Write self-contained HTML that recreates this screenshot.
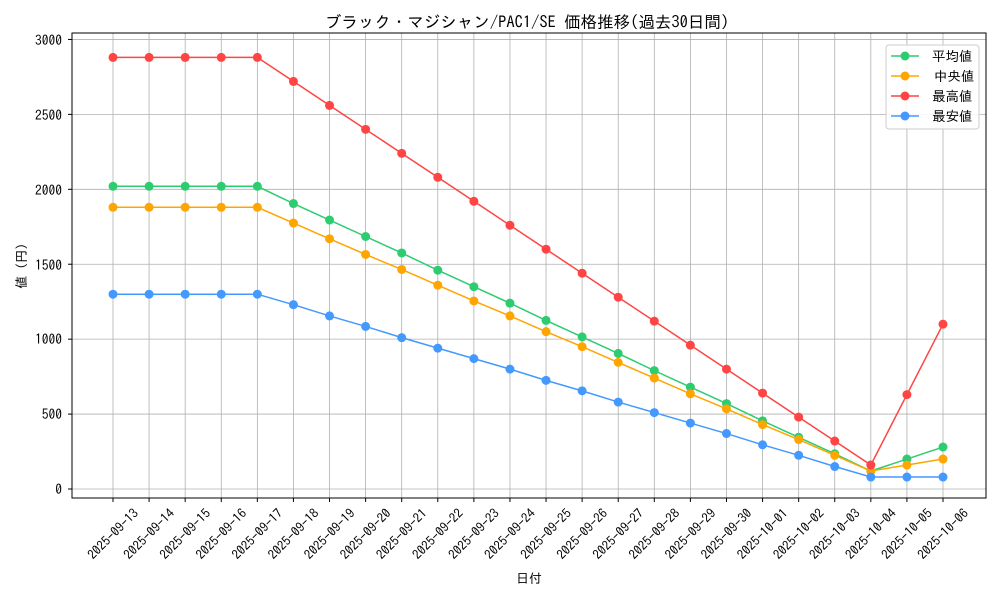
<!DOCTYPE html>
<html><head><meta charset="utf-8"><style>
html,body{margin:0;padding:0;background:#fff;}
svg text{font-family:"IPAGothic","Liberation Sans","Noto Sans CJK JP",sans-serif;fill:#000;}
</style></head><body>
<svg id="s" width="1000" height="600" viewBox="0 0 1000 600" xmlns="http://www.w3.org/2000/svg">
<rect width="1000" height="600" fill="#fff"/>
<g id="grid" stroke="#b0b0b0" stroke-width="0.8"></g>
<g id="series"></g>
<rect x="72" y="33" width="914" height="465" fill="none" stroke="#000" stroke-width="1"/>
<g id="ticks" stroke="#000" stroke-width="1"></g>
<text x="527" y="28" font-size="16.5" text-anchor="middle">ブラック・マジシャン/PAC1/SE 価格推移(過去30日間)</text>
<g font-size="13.5" text-anchor="end">
<text x="62" y="494">0</text>
<text x="62" y="419">500</text>
<text x="62" y="344">1000</text>
<text x="62" y="270">1500</text>
<text x="62" y="195">2000</text>
<text x="62" y="120">2500</text>
<text x="62" y="45">3000</text>
</g>
<text transform="translate(26,266) rotate(-90)" font-size="13" text-anchor="middle">値 (円)</text>
<text x="529" y="583" font-size="13" text-anchor="middle">日付</text>
<g id="xl" font-size="13" text-anchor="middle"></g>
<g>
<rect x="886" y="45" width="93" height="84" rx="3" fill="#fff" fill-opacity="0.85" stroke="#ccc"/>
<line x1="891" y1="56" x2="919" y2="56" stroke="#2ecc71" stroke-width="1.5"/><circle cx="905" cy="56" r="4.5" fill="#2ecc71"/>
<line x1="891" y1="76" x2="919" y2="76" stroke="#ffa500" stroke-width="1.5"/><circle cx="905" cy="76" r="4.5" fill="#ffa500"/>
<line x1="891" y1="96" x2="919" y2="96" stroke="#ff4444" stroke-width="1.5"/><circle cx="905" cy="96" r="4.5" fill="#ff4444"/>
<line x1="891" y1="116" x2="919" y2="116" stroke="#4499ff" stroke-width="1.5"/><circle cx="905" cy="116" r="4.5" fill="#4499ff"/>
<g font-size="13.5"><text x="932" y="61">平均値</text><text x="934" y="81">中央値</text><text x="932" y="101">最高値</text><text x="932" y="121">最安値</text></g>
</g>
</svg>
<script>
var NS="http://www.w3.org/2000/svg";
function el(p,t,a){var e=document.createElementNS(NS,t);for(var k in a)e.setAttribute(k,a[k]);p.appendChild(e);return e;}
function X(i){return 113+i*830/23;}
function Y(v){return 489-v*0.14985;}
var g=document.getElementById('grid'),tk=document.getElementById('ticks');
for(var i=0;i<24;i++){el(g,'line',{x1:X(i),x2:X(i),y1:33,y2:498});el(tk,'line',{x1:X(i),x2:X(i),y1:498,y2:502});}
for(var v=0;v<=3000;v+=500){el(g,'line',{x1:72,x2:986,y1:Y(v),y2:Y(v)});el(tk,'line',{x1:68,x2:72,y1:Y(v),y2:Y(v)});}
var S=[
["#ff4444",[2880,2880,2880,2880,2880,2720,2560,2400,2240,2080,1920,1760,1600,1440,1280,1120,960,800,640,480,320,160,630,1100]],
["#ffa500",[1880,1880,1880,1880,1880,1775,1670,1565,1465,1360,1255,1155,1050,950,845,740,635,535,430,330,225,120,160,200]],
["#2ecc71",[2020,2020,2020,2020,2020,1905,1795,1685,1575,1460,1350,1240,1125,1015,905,790,680,570,455,345,235,120,200,280]],
["#4499ff",[1300,1300,1300,1300,1300,1230,1155,1085,1010,940,870,800,725,655,580,510,440,370,295,225,150,80,80,80]]];
var sg=document.getElementById('series');
[2,1,0,3].forEach(function(j){var s=S[j];var pts=s[1].map(function(v,i){return X(i)+","+Y(v);}).join(" ");
el(sg,'polyline',{points:pts,fill:'none',stroke:s[0],'stroke-width':1.5});
s[1].forEach(function(v,i){el(sg,'circle',{cx:X(i),cy:Y(v),r:4.5,fill:s[0]});});});
var labels=["2025-09-13","2025-09-14","2025-09-15","2025-09-16","2025-09-17","2025-09-18","2025-09-19","2025-09-20","2025-09-21","2025-09-22","2025-09-23","2025-09-24","2025-09-25","2025-09-26","2025-09-27","2025-09-28","2025-09-29","2025-09-30","2025-10-01","2025-10-02","2025-10-03","2025-10-04","2025-10-05","2025-10-06"];
var xl=document.getElementById('xl');
labels.forEach(function(l,i){var t=el(xl,'text',{transform:"translate("+X(i)+",534) rotate(-45)",dy:"4.5"});t.textContent=l;});
</script>
</body></html>
